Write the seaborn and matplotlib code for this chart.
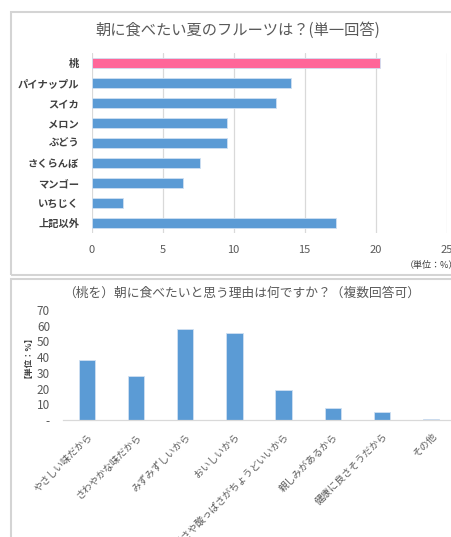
import matplotlib
matplotlib.use("Agg")
import matplotlib.pyplot as plt
import seaborn as sns
import pandas as pd
from matplotlib.patches import Rectangle
from matplotlib.ticker import FixedLocator, FuncFormatter

sns.set_theme(style="white")
plt.rcParams['font.family'] = ['Noto Sans CJK JP', 'DejaVu Sans']

# --- data ---
fruits = ["桃", "パイナップル", "スイカ", "メロン", "ぶどう", "さくらんぼ", "マンゴー", "いちじく", "上記以外"]
fruit_pct = [20.3, 14.0, 13.0, 9.5, 9.5, 7.6, 6.4, 2.2, 17.2]
fruit_colors = ["#FF6699"] + ["#5B9BD5"] * 8

reasons = ["やさしい味だから", "さわやかな味だから", "みずみずしいから", "おいしいから",
           "甘さや酸っぱさがちょうどいいから", "親しみがあるから", "健康に良さそうだから", "その他"]
reason_pct = [38.0, 28.0, 58.0, 55.5, 19.0, 7.6, 5.3, 0.6]

title1 = "朝に食べたい夏のフルーツは？(単一回答)"
title2 = "（桃を）朝に食べたいと思う理由は何ですか？（複数回答可）"

W, H = 451, 537
fig = plt.figure(figsize=(W / 100, H / 100), dpi=100)
fig.patch.set_facecolor("white")

def fx(px):
    return px / W

def fy(py):
    return 1 - py / H

# panel borders
border = "#d4d4d4"
fig.add_artist(Rectangle((fx(11), fy(275)), fx(470) - fx(11), fy(12) - fy(275),
                         transform=fig.transFigure, fill=False, edgecolor=border, lw=1.5))
fig.add_artist(Rectangle((fx(11), fy(545)), fx(470) - fx(11), fy(279) - fy(545),
                         transform=fig.transFigure, fill=False, edgecolor=border, lw=1.5))

# --- top chart ---
ax1 = fig.add_axes([fx(91.7), fy(233), fx(446.7) - fx(91.7), fy(53) - fy(233)])
df1 = pd.DataFrame({"fruit": fruits, "pct": fruit_pct})
sns.barplot(data=df1, x="pct", y="fruit", hue="fruit", palette=fruit_colors,
            legend=False, orient="h", width=0.5, ax=ax1, saturation=1,
            edgecolor="#cfe0f2", linewidth=0.6)
ax1.set_xlim(0, 25)
ax1.set_xticks([0, 5, 10, 15, 20, 25])
ax1.grid(axis="x", color="#d9d9d9", lw=0.9)
ax1.set_axisbelow(True)
for s in ax1.spines.values():
    s.set_visible(False)
ax1.set_xlabel("")
ax1.set_ylabel("")
ax1.tick_params(axis="y", length=0, pad=9, labelsize=7.4, labelcolor="#404040")
for lab in ax1.get_yticklabels():
    lab.set_fontweight("bold")
ax1.tick_params(axis="x", length=0, pad=9, labelsize=8, labelcolor="#595959")
fig.text(fx(238), fy(30), title1, ha="center", va="center", fontsize=11, color="#595959")
fig.text(fx(405), fy(265), "（単位：%）", ha="left", va="center", fontsize=6.5, color="#404040")

# --- bottom chart ---
ax2 = fig.add_axes([fx(62.5), fy(420), fx(455.5) - fx(62.5), fy(310) - fy(420)])
df2 = pd.DataFrame({"reason": reasons, "pct": reason_pct})
sns.barplot(data=df2, x="reason", y="pct", color="#5B9BD5", width=0.33, ax=ax2,
            saturation=1, edgecolor="#cfe0f2", linewidth=0.6)
ax2.set_ylim(0, 70)
ax2.yaxis.set_major_locator(FixedLocator([0, 10, 20, 30, 40, 50, 60, 70]))
ax2.yaxis.set_major_formatter(FuncFormatter(lambda v, p: "-" if v == 0 else f"{int(v)}"))
for side in ["top", "right", "left"]:
    ax2.spines[side].set_visible(False)
ax2.spines["bottom"].set_color("#d9d9d9")
ax2.spines["bottom"].set_linewidth(0.9)
ax2.set_xlabel("")
ax2.set_ylabel("")
ax2.tick_params(axis="y", length=0, pad=9, labelsize=8.5, labelcolor="#595959")
ax2.tick_params(axis="x", length=0, pad=8, labelsize=7, labelcolor="#595959")
plt.setp(ax2.get_xticklabels(), rotation=45, ha="right", rotation_mode="anchor")
fig.text(fx(242), fy(293), title2, ha="center", va="center", fontsize=9.2, color="#595959")
fig.text(fx(24), fy(353), "【単位：%】", ha="center", va="center", rotation=90,
         fontsize=6, color="#404040", fontweight="bold")

fig.savefig("out.png", dpi=100, facecolor="white")
